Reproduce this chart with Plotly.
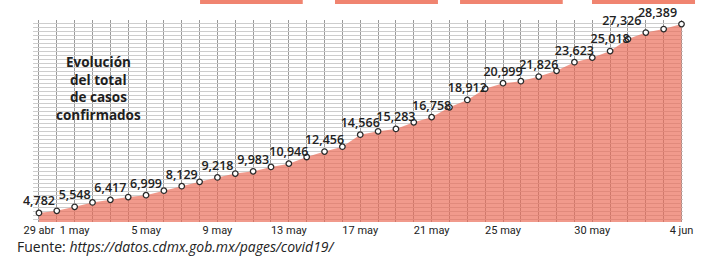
import pandas as pd
import plotly.graph_objects as go

# ---- data ----
dates = pd.date_range("2020-04-29", "2020-06-04", freq="D")
cases = [4782, 5050, 5548, 6100, 6417, 6766, 6999, 7564, 8129, 8674,
         9218, 9700, 9983, 10532, 10946, 11776, 12456, 13068, 14566, 14982,
         15283, 16109, 16758, 17986, 18912, 20310, 20999, 21247, 21826, 22545,
         23623, 24195, 25018, 26518, 27326, 27762, 28389]
tick_dates = ["2020-04-29", "2020-05-01", "2020-05-05", "2020-05-09", "2020-05-13",
              "2020-05-17", "2020-05-21", "2020-05-25", "2020-05-30", "2020-06-04"]
tick_labels = ["29 abr", "1 may", "5 may", "9 may", "13 may",
               "17 may", "21 may", "25 may", "30 may", "4 jun"]
title_lines = ["Evolución", "del total", "de casos", "confirmados"]
source_label = "Fuente: "
source_url = "https://datos.cdmx.gob.mx/pages/covid19/"

# ---- derived ----
point_text = [f"{v:,}" if i % 2 == 0 else "" for i, v in enumerate(cases)]
text_pos = ["top center"] * len(cases)
text_pos[-1] = "top left"
text_pos[-3] = "top left"

tick_map = dict(zip(pd.to_datetime(tick_dates), tick_labels))
all_ticktext = [tick_map.get(d, "") for d in dates]

fig = go.Figure()
fig.add_trace(go.Scatter(
    x=dates, y=cases, mode="markers+text",
    fill="tozeroy", fillcolor="rgba(234,106,86,0.68)",
    line=dict(width=0, color="rgba(0,0,0,0)"),
    marker=dict(size=5.5, color="white", line=dict(color="#2a2a2a", width=1.3)),
    text=point_text, textposition=text_pos,
    textfont=dict(family="Open Sans", size=12.5, color="#222222", weight=600),
    cliponaxis=False, hoverinfo="skip", showlegend=False,
))

fig.update_xaxes(
    type="date",
    range=["2020-04-28 16:00", "2020-06-04 02:00"],
    tickvals=dates, ticktext=all_ticktext,
    showgrid=True, gridcolor="#9a9a9a", gridwidth=1,
    ticks="", showline=False, zeroline=False, automargin=False,
    tickfont=dict(family="Roboto", size=11, color="#222222"),
    tickangle=0,
)
fig.update_yaxes(
    range=[3650, 28900], dtick=500, tick0=0,
    showgrid=True, gridcolor="#cdcdcd", gridwidth=1, automargin=False,
    showticklabels=False, ticks="", zeroline=False, showline=False,
)

# chart title, one annotation per line
title_y = [0.792, 0.703, 0.619, 0.530]
for line, yy in zip(title_lines, title_y):
    fig.add_annotation(
        xref="paper", yref="paper", x=0.1, y=yy, xanchor="center", yanchor="middle",
        text=line, showarrow=False, borderpad=0,
        font=dict(family="Open Sans", size=13.5, color="#1e1e1e", weight=700),
    )
fig.add_annotation(
    xref="paper", yref="paper", x=-0.028, y=-0.119, xanchor="left", yanchor="middle",
    text=source_label + "<i>" + source_url + "</i>", showarrow=False,
    font=dict(family="Open Sans", size=14, color="#222222"),
)

# cropped boxes at the very top of the clipping
for x0, x1 in [(0.257, 0.415), (0.4646, 0.623), (0.657, 0.815), (0.860, 1.0185)]:
    fig.add_shape(type="rect", xref="paper", yref="paper", x0=x0, x1=x1,
                  y0=1.079, y1=1.11, fillcolor="rgb(240,132,112)", line_width=0,
                  layer="above")

fig.update_layout(
    width=702, height=257,
    margin=dict(l=33, r=19, t=20, b=35),
    paper_bgcolor="white", plot_bgcolor="white",
)

fig.write_html("out.html", config={"displayModeBar": False},
               post_script="document.body.style.margin='0';document.body.style.overflow='hidden';")
